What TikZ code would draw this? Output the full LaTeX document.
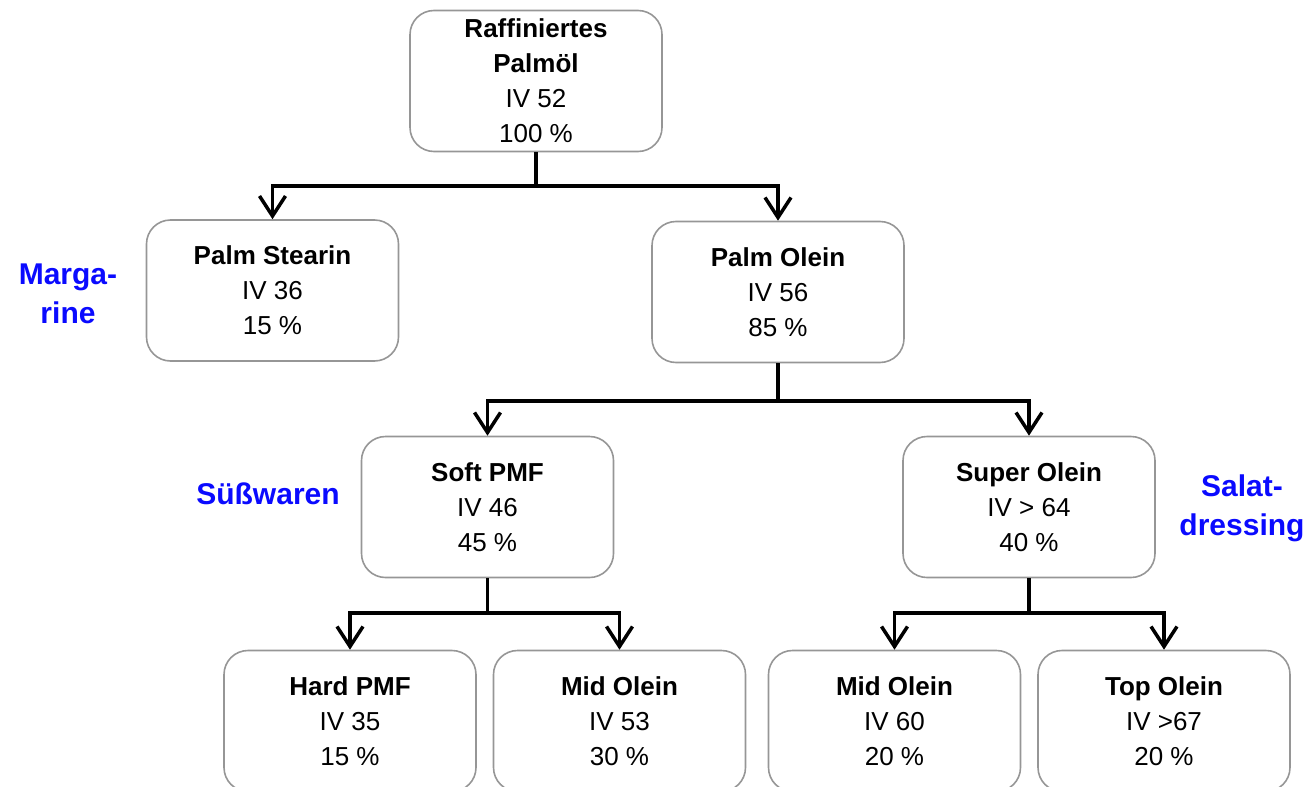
\documentclass[tikz,border=0pt]{standalone}
\usepackage{fontspec}
\setmainfont{Liberation Sans}
\usetikzlibrary{arrows.meta}
\definecolor{boxgray}{RGB}{150,150,150}
\definecolor{lblblue}{RGB}{10,10,255}
\tikzset{
  fbox/.style={draw=boxgray, line width=1.6pt, rounded corners=24pt,
    minimum width=252pt, minimum height=141pt, align=center, inner sep=0pt,
    font=\fontsize{26}{35}\selectfont},
  conn/.style={line width=3.5pt, black},
  arr/.style={conn, -{Straight Barb[length=20pt,width=26pt]}},
  lbl/.style={text=lblblue, align=center, font=\bfseries\fontsize{30}{39}\selectfont}
}
\begin{document}
\begin{tikzpicture}[x=1pt,y=-1pt]
\useasboundingbox (0,0) rectangle (1309,787);
\node[fbox] (top) at (536,81) {\textbf{Raffiniertes}\\\textbf{Palmöl}\\IV 52\\100 \%};
\node[fbox] (ps) at (272.5,290.5) {\textbf{Palm Stearin}\\IV 36\\15 \%};
\node[fbox] (po) at (778,292) {\textbf{Palm Olein}\\IV 56\\85 \%};
\node[fbox] (sp) at (487.5,507) {\textbf{Soft PMF}\\IV 46\\45 \%};
\node[fbox] (so) at (1029,507) {\textbf{Super Olein}\\IV > 64\\40 \%};
\node[fbox] (hp) at (350,721) {\textbf{Hard PMF}\\IV 35\\15 \%};
\node[fbox] (mo1) at (619.5,721) {\textbf{Mid Olein}\\IV 53\\30 \%};
\node[fbox] (mo2) at (894.5,721) {\textbf{Mid Olein}\\IV 60\\20 \%};
\node[fbox] (to) at (1164,721) {\textbf{Top Olein}\\IV >67\\20 \%};
\node[lbl] (lm) at (68,294) {Marga-\\rine};
\node[lbl] (ls) at (268,494) {Süßwaren};
\node[lbl] (lsd) at (1242,508) {Salat-\\dressing};
\coordinate (j1) at (536,186);
\coordinate (j2) at (778,401);
\coordinate (j3) at (487.5,613);
\coordinate (j4) at (1029,613);
\draw[conn] (top.south) -- (j1);
\draw[arr] (j1) -| (ps.north);
\draw[arr] (j1) -| (po.north);
\draw[conn] (po.south) -- (j2);
\draw[arr] (j2) -| (sp.north);
\draw[arr] (j2) -| (so.north);
\draw[conn] (sp.south) -- (j3);
\draw[arr] (j3) -| (hp.north);
\draw[arr] (j3) -| (mo1.north);
\draw[conn] (so.south) -- (j4);
\draw[arr] (j4) -| (mo2.north);
\draw[arr] (j4) -| (to.north);
\end{tikzpicture}
\end{document}
